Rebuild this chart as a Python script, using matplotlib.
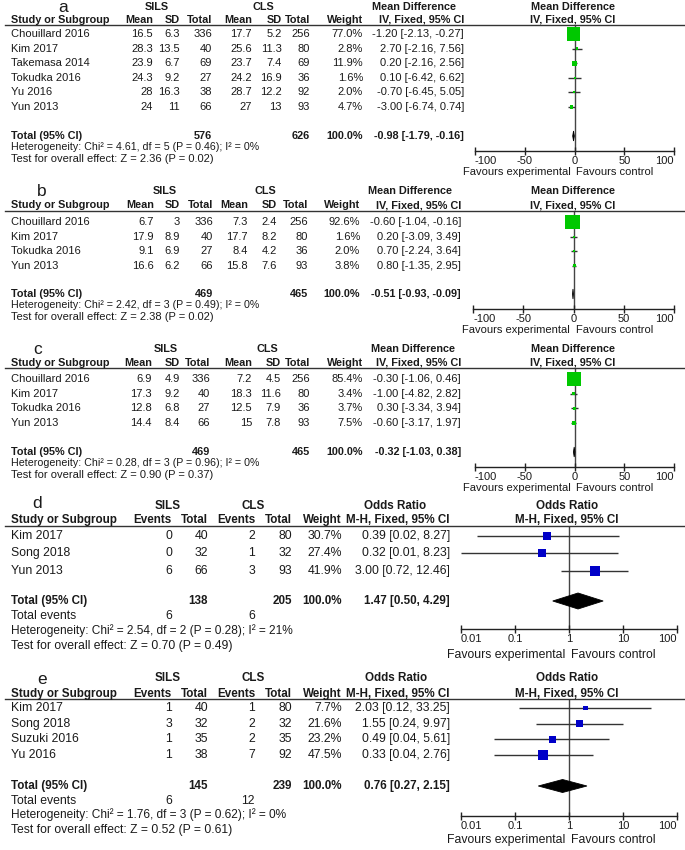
import numpy as np
import matplotlib
matplotlib.use('Agg')
import matplotlib.pyplot as plt
from matplotlib.lines import Line2D
from matplotlib.ticker import NullLocator

W, H = 685, 850
plt.rcParams['font.family'] = ['Liberation Sans', 'DejaVu Sans']

# ------------------------- data -------------------------
# Panel a
a_studies = ["Chouillard 2016", "Kim 2017", "Takemasa 2014", "Tokudka 2016", "Yu 2016", "Yun 2013"]
a_sils_mean = [16.5, 28.3, 23.9, 24.3, 28, 24]
a_sils_sd = [6.3, 13.5, 6.7, 9.2, 16.3, 11]
a_sils_n = [336, 40, 69, 27, 38, 66]
a_cls_mean = [17.7, 25.6, 23.7, 24.2, 28.7, 27]
a_cls_sd = [5.2, 11.3, 7.4, 16.9, 12.2, 13]
a_cls_n = [256, 80, 69, 36, 92, 93]
a_weight = [77.0, 2.8, 11.9, 1.6, 2.0, 4.7]
a_md = [-1.20, 2.70, 0.20, 0.10, -0.70, -3.00]
a_lo = [-2.13, -2.16, -2.16, -6.42, -6.45, -6.74]
a_hi = [-0.27, 7.56, 2.56, 6.62, 5.05, 0.74]
a_total = [576, 626]
a_pooled = [-0.98, -1.79, -0.16]
a_het = "Heterogeneity: Chi² = 4.61, df = 5 (P = 0.46); I² = 0%"
a_test = "Test for overall effect: Z = 2.36 (P = 0.02)"

# Panel b
b_studies = ["Chouillard 2016", "Kim 2017", "Tokudka 2016", "Yun 2013"]
b_sils_mean = [6.7, 17.9, 9.1, 16.6]
b_sils_sd = [3, 8.9, 6.9, 6.2]
b_sils_n = [336, 40, 27, 66]
b_cls_mean = [7.3, 17.7, 8.4, 15.8]
b_cls_sd = [2.4, 8.2, 4.2, 7.6]
b_cls_n = [256, 80, 36, 93]
b_weight = [92.6, 1.6, 2.0, 3.8]
b_md = [-0.60, 0.20, 0.70, 0.80]
b_lo = [-1.04, -3.09, -2.24, -1.35]
b_hi = [-0.16, 3.49, 3.64, 2.95]
b_total = [469, 465]
b_pooled = [-0.51, -0.93, -0.09]
b_het = "Heterogeneity: Chi² = 2.42, df = 3 (P = 0.49); I² = 0%"
b_test = "Test for overall effect: Z = 2.38 (P = 0.02)"

# Panel c
c_studies = ["Chouillard 2016", "Kim 2017", "Tokudka 2016", "Yun 2013"]
c_sils_mean = [6.9, 17.3, 12.8, 14.4]
c_sils_sd = [4.9, 9.2, 6.8, 8.4]
c_sils_n = [336, 40, 27, 66]
c_cls_mean = [7.2, 18.3, 12.5, 15]
c_cls_sd = [4.5, 11.6, 7.9, 7.8]
c_cls_n = [256, 80, 36, 93]
c_weight = [85.4, 3.4, 3.7, 7.5]
c_md = [-0.30, -1.00, 0.30, -0.60]
c_lo = [-1.06, -4.82, -3.34, -3.17]
c_hi = [0.46, 2.82, 3.94, 1.97]
c_total = [469, 465]
c_pooled = [-0.32, -1.03, 0.38]
c_het = "Heterogeneity: Chi² = 0.28, df = 3 (P = 0.96); I² = 0%"
c_test = "Test for overall effect: Z = 0.90 (P = 0.37)"

# Panel d
d_studies = ["Kim 2017", "Song 2018", "Yun 2013"]
d_sils_ev = [0, 0, 6]
d_sils_n = [40, 32, 66]
d_cls_ev = [2, 1, 3]
d_cls_n = [80, 32, 93]
d_weight = [30.7, 27.4, 41.9]
d_or = [0.39, 0.32, 3.00]
d_lo = [0.02, 0.01, 0.72]
d_hi = [8.27, 8.23, 12.46]
d_total = [138, 205]
d_events = [6, 6]
d_pooled = [1.47, 0.50, 4.29]
d_het = "Heterogeneity: Chi² = 2.54, df = 2 (P = 0.28); I² = 21%"
d_test = "Test for overall effect: Z = 0.70 (P = 0.49)"

# Panel e
e_studies = ["Kim 2017", "Song 2018", "Suzuki 2016", "Yu 2016"]
e_sils_ev = [1, 3, 1, 1]
e_sils_n = [40, 32, 35, 38]
e_cls_ev = [1, 2, 2, 7]
e_cls_n = [80, 32, 35, 92]
e_weight = [7.7, 21.6, 23.2, 47.5]
e_or = [2.03, 1.55, 0.49, 0.33]
e_lo = [0.12, 0.24, 0.04, 0.04]
e_hi = [33.25, 9.97, 5.61, 2.76]
e_total = [145, 239]
e_events = [6, 12]
e_pooled = [0.76, 0.27, 2.15]
e_het = "Heterogeneity: Chi² = 1.76, df = 3 (P = 0.62); I² = 0%"
e_test = "Test for overall effect: Z = 0.52 (P = 0.61)"

md_ticks = [-100, -50, 0, 50, 100]
md_ticklabels = ["-100", "-50", "0", "50", "100"]
or_ticks = [0.01, 0.1, 1, 10, 100]
or_ticklabels = ["0.01", "0.1", "1", "10", "100"]

# ------------------------- layout -------------------------
FS_AC = dict(reg=8.0, bold=7.8, het=7.7, test=8.0, tick=8.0, fav=8.0)
FS_DE = dict(reg=8.8, bold=8.4, het=8.6, test=8.7, tick=8.0, fav=8.8)

LA = dict(fs=FS_AC, letter=(63, 8), grp=7, sub=20, line=25, row0=34, step=14.6, total=136,
          foot=[147.5, 158.5], cols=[153, 180, 212, 252, 282, 310, 363, 464], sils=157, cls=263,
          eff_hdr=414, plot_hdr=573, px0=475, px1=674, axis=151, favours=172, dh=5)
LB = dict(fs=FS_AC, letter=(42, 192), grp=191, sub=205, line=211, row0=222, step=14.6, total=294,
          foot=[305.5, 316.5], cols=[154, 180, 213, 248, 277, 308, 360, 461], sils=165, cls=265,
          eff_hdr=410, plot_hdr=573, px0=473, px1=674, axis=309, favours=330, dh=5)
LC = dict(fs=FS_AC, letter=(38, 350), grp=349, sub=363, line=368, row0=379, step=14.6, total=452,
          foot=[463.5, 474.5], cols=[152, 180, 210, 252, 281, 310, 363, 461], sils=166, cls=267,
          eff_hdr=413, plot_hdr=573, px0=475, px1=674, axis=467, favours=488, dh=5)
LD = dict(fs=FS_DE, letter=(37, 504), grp=506, sub=520, line=526, row0=536, step=17.3, total=601,
          foot=[616, 631, 646], cols=[172, 208, 255, 292, 342, 450], sils=168, cls=253,
          eff_hdr=395, plot_hdr=567, px0=461, px1=677, axis=629, favours=655, dh=8)
LE = dict(fs=FS_DE, letter=(42, 679), grp=678, sub=694, line=699, row0=708, step=15.7, total=786,
          foot=[801, 815, 830], cols=[172, 208, 255, 292, 342, 450], sils=168, cls=253,
          eff_hdr=396, plot_hdr=567, px0=461, px1=677, axis=816, favours=840, dh=6.5)

fig = plt.figure(figsize=(6.85, 8.5), dpi=100)
TXT = '#1a1a1a'


def T(x, y, s, ha='left', bold=False, size=8.0, **kw):
    fig.text(x / W, 1 - y / H, s, ha=ha, va='center', fontsize=size,
             fontweight='bold' if bold else 'normal', color=TXT, **kw)


def g(v):
    return f"{v:g}"


def ci(e, l, h):
    return f"{e:.2f} [{l:.2f}, {h:.2f}]"


def draw_panel(L, letter, kind, studies, cells, weights, est, lo, hi, totals, pooled,
               events, het, test):
    fs = L['fs']
    fb, fr = fs['bold'], fs['reg']
    T(L['letter'][0], L['letter'][1], letter, ha='center', size=12.5)
    eff = 'Mean Difference' if kind == 'md' else 'Odds Ratio'
    meth = 'IV, Fixed, 95% CI' if kind == 'md' else 'M-H, Fixed, 95% CI'
    T(L['sils'], L['grp'], 'SILS', ha='center', bold=True, size=fb)
    T(L['cls'], L['grp'], 'CLS', ha='center', bold=True, size=fb)
    T(L['eff_hdr'], L['grp'], eff, ha='center', bold=True, size=fb)
    T(L['plot_hdr'], L['grp'], eff, ha='center', bold=True, size=fb)
    T(11, L['sub'], 'Study or Subgroup', bold=True, size=fb)
    if kind == 'md':
        heads = ['Mean', 'SD', 'Total', 'Mean', 'SD', 'Total', 'Weight', meth]
    else:
        heads = ['Events', 'Total', 'Events', 'Total', 'Weight', meth]
    for x, h in zip(L['cols'], heads):
        T(x, L['sub'], h, ha='right', bold=True, size=fb)
    T(L['plot_hdr'], L['sub'], meth, ha='center', bold=True, size=fb)
    fig.add_artist(Line2D([5 / W, 685 / W], [1 - L['line'] / H] * 2, color='#333333', lw=1.0))

    ys = [L['row0'] + i * L['step'] for i in range(len(studies))]
    for i, (name, y) in enumerate(zip(studies, ys)):
        T(11, y, name, size=fr)
        for x, c in zip(L['cols'], cells[i]):
            T(x, y, c, ha='right', size=fr)

    # totals row
    T(11, L['total'], 'Total (95% CI)', bold=True, size=fb)
    ncol = len(L['cols'])
    tpos = [2, 5] if kind == 'md' else [1, 3]
    T(L['cols'][tpos[0]], L['total'], str(totals[0]), ha='right', bold=True, size=fb)
    T(L['cols'][tpos[1]], L['total'], str(totals[1]), ha='right', bold=True, size=fb)
    T(L['cols'][ncol - 2], L['total'], '100.0%', ha='right', bold=True, size=fb)
    T(L['cols'][ncol - 1], L['total'], ci(*pooled), ha='right', bold=True, size=fb)

    foot = list(L['foot'])
    if events is not None:
        yev = foot.pop(0)
        T(11, yev, 'Total events', size=fr)
        T(L['cols'][0], yev, str(events[0]), ha='right', size=fr)
        T(L['cols'][2], yev, str(events[1]), ha='right', size=fr)
    T(11, foot[0], het, size=fs['het'])
    T(11, foot[1], test, size=fs['test'])

    # forest plot
    ax = fig.add_axes([L['px0'] / W, 1 - L['axis'] / H, (L['px1'] - L['px0']) / W,
                       (L['axis'] - L['line']) / H])
    ax.patch.set_alpha(0)
    ax.set_ylim(L['axis'], L['line'])
    if kind == 'md':
        ax.set_xlim(-100, 100)
        ref = 0
        col = '#00c800'
        ticks, tlabels = md_ticks, md_ticklabels
    else:
        ax.set_xscale('log')
        ax.set_xlim(0.01, 100)
        ref = 1
        col = '#0000c8'
        ticks, tlabels = or_ticks, or_ticklabels
    ax.axvline(ref, color='#444444', lw=1.0, zorder=1)
    for y, l, h in zip(ys, lo, hi):
        ax.plot([l, h], [y, y], color='#333333', lw=1.0, zorder=2, solid_capstyle='butt')
    sizes = [(1.55 * np.sqrt(w) * 0.72) ** 2 for w in weights]
    ax.scatter(est, ys, marker='s', s=sizes, color=col, zorder=3, linewidths=0, clip_on=False)
    pe, pl, ph = pooled
    ty = L['total']
    dh = L['dh']
    ax.fill([pl, pe, ph, pe], [ty, ty - dh, ty, ty + dh], color='black', lw=0.6,
            edgecolor='black', zorder=4)
    for s in ['top', 'left', 'right']:
        ax.spines[s].set_visible(False)
    ax.spines['bottom'].set_color('#222222')
    ax.spines['bottom'].set_linewidth(1.0)
    ax.set_yticks([])
    ax.set_xticks(ticks)
    ax.set_xticklabels(tlabels)
    ax.xaxis.set_minor_locator(NullLocator())
    ax.tick_params(axis='x', direction='inout', length=6, width=1.0, labelsize=fs['tick'],
                   pad=0.5, colors='#222222', labelcolor=TXT)
    tl = ax.get_xticklabels()
    tl[0].set_horizontalalignment('left')
    tl[-1].set_horizontalalignment('right')
    refpx = L['px0'] + (L['px1'] - L['px0']) * 0.5
    T(refpx - 4, L['favours'], 'Favours experimental', ha='right', size=fs['fav'])
    T(refpx + 2, L['favours'], 'Favours control', ha='left', size=fs['fav'])


def md_cells(m1, s1, n1, m2, s2, n2, w, e, l, h):
    return [[g(m1[i]), g(s1[i]), str(n1[i]), g(m2[i]), g(s2[i]), str(n2[i]),
             f"{w[i]:.1f}%", ci(e[i], l[i], h[i])] for i in range(len(m1))]


def or_cells(e1, n1, e2, n2, w, e, l, h):
    return [[str(e1[i]), str(n1[i]), str(e2[i]), str(n2[i]), f"{w[i]:.1f}%",
             ci(e[i], l[i], h[i])] for i in range(len(e1))]


draw_panel(LA, 'a', 'md', a_studies,
           md_cells(a_sils_mean, a_sils_sd, a_sils_n, a_cls_mean, a_cls_sd, a_cls_n,
                    a_weight, a_md, a_lo, a_hi),
           a_weight, a_md, a_lo, a_hi, a_total, a_pooled, None, a_het, a_test)
draw_panel(LB, 'b', 'md', b_studies,
           md_cells(b_sils_mean, b_sils_sd, b_sils_n, b_cls_mean, b_cls_sd, b_cls_n,
                    b_weight, b_md, b_lo, b_hi),
           b_weight, b_md, b_lo, b_hi, b_total, b_pooled, None, b_het, b_test)
draw_panel(LC, 'c', 'md', c_studies,
           md_cells(c_sils_mean, c_sils_sd, c_sils_n, c_cls_mean, c_cls_sd, c_cls_n,
                    c_weight, c_md, c_lo, c_hi),
           c_weight, c_md, c_lo, c_hi, c_total, c_pooled, None, c_het, c_test)
draw_panel(LD, 'd', 'or', d_studies,
           or_cells(d_sils_ev, d_sils_n, d_cls_ev, d_cls_n, d_weight, d_or, d_lo, d_hi),
           d_weight, d_or, d_lo, d_hi, d_total, d_pooled, d_events, d_het, d_test)
draw_panel(LE, 'e', 'or', e_studies,
           or_cells(e_sils_ev, e_sils_n, e_cls_ev, e_cls_n, e_weight, e_or, e_lo, e_hi),
           e_weight, e_or, e_lo, e_hi, e_total, e_pooled, e_events, e_het, e_test)

fig.savefig('out.png', dpi=100, facecolor='white')
